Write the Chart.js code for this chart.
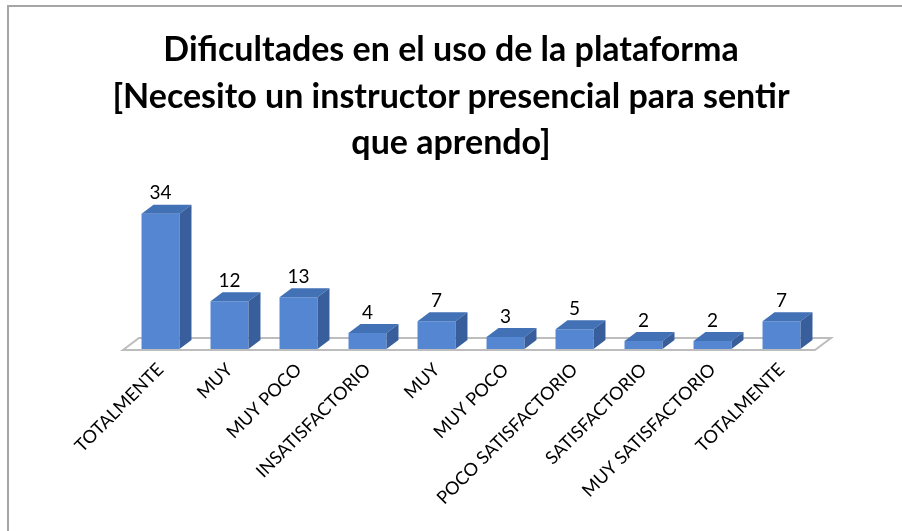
<!DOCTYPE html>
<html>
<head>
<meta charset="utf-8">
<script src="https://cdn.jsdelivr.net/npm/chart.js@4.4.1/dist/chart.umd.min.js"></script>
<style>
  html, body { margin: 0; padding: 0; background: #fff; }
  #wrap { position: relative; width: 902px; height: 531px; overflow: hidden; background: #fff; }
  #frame { position: absolute; left: 7px; top: 5px; width: 1000px; height: 1000px;
           border-left: 2px solid #a6a6a6; border-top: 2px solid #a6a6a6; box-sizing: border-box; }
  #title { position: absolute; left: 0; top: 25px; width: 902px; text-align: center;
           font-family: Lato, "Open Sans", sans-serif; font-weight: bold; font-size: 34px;
           line-height: 46.5px; color: #000; }
  canvas { position: absolute; left: 0; top: 0; }
</style>
</head>
<body>
<div id="wrap">
  <div id="frame"></div>
  <canvas id="c" width="902" height="531"></canvas>
  <div id="title">Dificultades en el uso de la plataforma<br>[Necesito un instructor presencial para sentir<br>que aprendo]</div>
</div>
<script>
const categories = ["TOTALMENTE", "MUY", "MUY POCO", "INSATISFACTORIO", "MUY", "MUY POCO",
                    "POCO SATISFACTORIO", "SATISFACTORIO", "MUY SATISFACTORIO", "TOTALMENTE"];
const values = [34, 12, 13, 4, 7, 3, 5, 2, 2, 7];
const yMin = 0;
const yMax = 40;

const DX = 12, DY = 9;
const FRONT = '#5586d1', TOP = '#4271b6', SIDE = '#385f9b';

const floorPlugin = {
  id: 'floor3d',
  beforeDatasetsDraw(chart) {
    const ctx = chart.ctx, a = chart.chartArea;
    const l = a.left - 3, r = a.right - 1, b = a.bottom + 1;
    ctx.save();
    ctx.beginPath();
    ctx.moveTo(l, b);
    ctx.lineTo(r, b);
    ctx.lineTo(r + DX + 4, b - DY - 3);
    ctx.lineTo(l + DX + 4, b - DY - 3);
    ctx.closePath();
    ctx.fillStyle = '#ffffff';
    ctx.fill();
    ctx.strokeStyle = '#bdbdbd';
    ctx.lineWidth = 2;
    ctx.stroke();
    ctx.restore();
  }
};

const bar3dPlugin = {
  id: 'bar3d',
  afterDatasetsDraw(chart) {
    const ctx = chart.ctx;
    const meta = chart.getDatasetMeta(0);
    ctx.save();
    meta.data.forEach((bar, i) => {
      const p = bar.getProps(['x', 'y', 'base', 'width'], true);
      const l = p.x - p.width / 2, r = p.x + p.width / 2, t = p.y, b = p.base;
      ctx.beginPath();
      ctx.moveTo(l, t);
      ctx.lineTo(l + DX, t - DY);
      ctx.lineTo(r + DX, t - DY);
      ctx.lineTo(r, t);
      ctx.closePath();
      ctx.fillStyle = TOP;
      ctx.fill();
      ctx.beginPath();
      ctx.moveTo(r, t);
      ctx.lineTo(r + DX, t - DY);
      ctx.lineTo(r + DX, b - DY);
      ctx.lineTo(r, b);
      ctx.closePath();
      ctx.fillStyle = SIDE;
      ctx.fill();
      ctx.fillStyle = '#000';
      ctx.font = '19px Lato, "Open Sans", sans-serif';
      ctx.textAlign = 'center';
      ctx.textBaseline = 'bottom';
      ctx.fillText(String(values[i]), p.x, t - DY - 2);
    });
    ctx.restore();
  }
};

new Chart(document.getElementById('c'), {
  type: 'bar',
  data: {
    labels: categories,
    datasets: [{
      data: values,
      backgroundColor: FRONT,
      borderWidth: 0,
      barPercentage: 0.55,
      categoryPercentage: 1.0
    }]
  },
  options: {
    responsive: false,
    animation: false,
    devicePixelRatio: 1,
    layout: { padding: { left: 126, right: 86, top: 190, bottom: 0 } },
    plugins: { legend: { display: false }, title: { display: false }, tooltip: { enabled: false } },
    scales: {
      x: {
        grid: { display: false, drawTicks: false },
        border: { display: false },
        ticks: {
          autoSkip: false, maxRotation: 45, minRotation: 45, padding: 10,
          color: '#000', font: { family: 'Lato, "Open Sans", sans-serif', size: 18 }
        },
        afterFit(scale) { scale.height = 182; }
      },
      y: {
        display: false,
        min: yMin, max: yMax
      }
    }
  },
  plugins: [floorPlugin, bar3dPlugin]
});
</script>
</body>
</html>
